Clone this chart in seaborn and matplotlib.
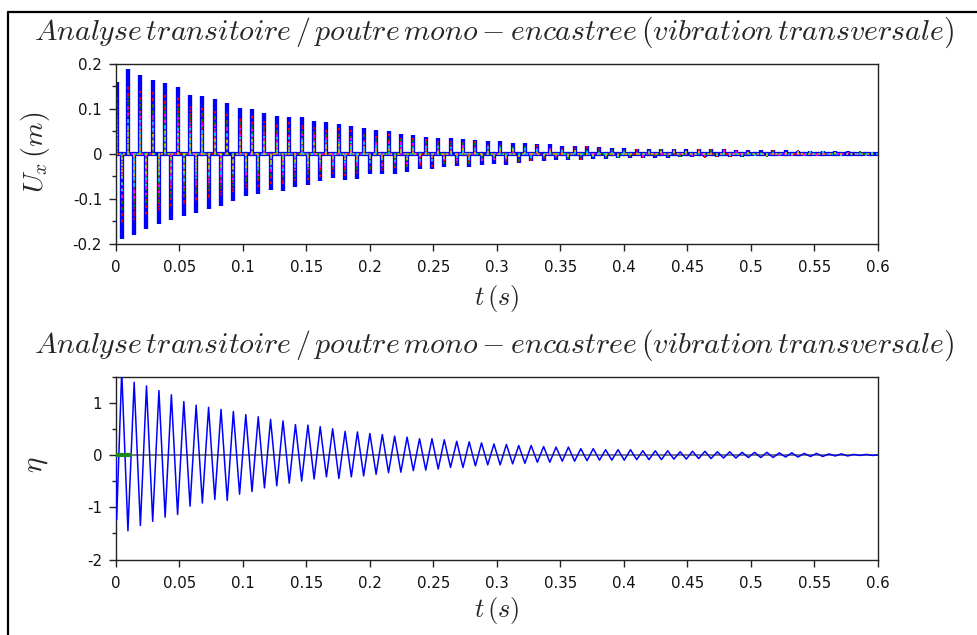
import numpy as np
import pandas as pd
import matplotlib
matplotlib.use("Agg")
import matplotlib.pyplot as plt
from matplotlib.lines import Line2D
from matplotlib.ticker import MultipleLocator, FuncFormatter
import seaborn as sns

# ---------------- data ----------------
# times (s) of the eta troughs (= positive U_x spikes)
t_trough = [0.0005, 0.0094, 0.0192, 0.0289, 0.0387, 0.0485, 0.0583, 0.0680, 0.0778, 0.0876,
            0.0973, 0.1071, 0.1169, 0.1266, 0.1364, 0.1462, 0.1560, 0.1657, 0.1755, 0.1853,
            0.1950, 0.2048, 0.2146, 0.2243, 0.2341, 0.2439, 0.2537, 0.2634, 0.2732, 0.2830,
            0.2927, 0.3025, 0.3123, 0.3220, 0.3318, 0.3416, 0.3514, 0.3611, 0.3709, 0.3807,
            0.3904, 0.4002, 0.4100, 0.4197, 0.4295, 0.4393, 0.4491, 0.4588, 0.4686, 0.4784,
            0.4881, 0.4979, 0.5077, 0.5174, 0.5272, 0.5370, 0.5468, 0.5565, 0.5663, 0.5761,
            0.5858, 0.5956]
# times (s) of the eta peaks (= negative U_x spikes)
t_peak = [0.0045, 0.0143, 0.0240, 0.0338, 0.0436, 0.0534, 0.0631, 0.0729, 0.0827, 0.0924,
          0.1022, 0.1120, 0.1217, 0.1315, 0.1413, 0.1511, 0.1608, 0.1706, 0.1804, 0.1901,
          0.1999, 0.2097, 0.2194, 0.2292, 0.2390, 0.2488, 0.2585, 0.2683, 0.2781, 0.2878,
          0.2976, 0.3074, 0.3171, 0.3269, 0.3367, 0.3465, 0.3562, 0.3660, 0.3758, 0.3855,
          0.3953, 0.4051, 0.4148, 0.4246, 0.4344, 0.4442, 0.4539, 0.4637, 0.4735, 0.4832,
          0.4930, 0.5028, 0.5125, 0.5223, 0.5321, 0.5419, 0.5516, 0.5614, 0.5712, 0.5809,
          0.5907]

# U_x (m): positive spikes (at t_trough) and negative spikes (at t_peak)
ux_pos = [0.160, 0.188, 0.176, 0.165, 0.158, 0.148, 0.131, 0.129, 0.122, 0.114,
          0.101, 0.099, 0.090, 0.084, 0.083, 0.081, 0.073, 0.071, 0.066, 0.062,
          0.058, 0.053, 0.050, 0.045, 0.041, 0.038, 0.036, 0.034, 0.032, 0.031,
          0.028, 0.028, 0.025, 0.023, 0.021, 0.021, 0.017, 0.017, 0.017, 0.016,
          0.013, 0.013, 0.011, 0.011, 0.011, 0.011, 0.011, 0.010, 0.010, 0.010,
          0.009, 0.009, 0.008, 0.008, 0.008, 0.007, 0.007, 0.007, 0.006, 0.006,
          0.005, 0.005]
ux_neg = [-0.190, -0.181, -0.168, -0.156, -0.147, -0.138, -0.132, -0.123, -0.116, -0.106,
          -0.095, -0.089, -0.080, -0.084, -0.073, -0.069, -0.061, -0.054, -0.058, -0.056,
          -0.046, -0.046, -0.045, -0.040, -0.035, -0.034, -0.029, -0.027, -0.029, -0.024,
          -0.022, -0.024, -0.020, -0.016, -0.016, -0.013, -0.013, -0.013, -0.011, -0.011,
          -0.010, -0.010, -0.009, -0.009, -0.009, -0.008, -0.008, -0.008, -0.007, -0.007,
          -0.007, -0.006, -0.006, -0.006, -0.005, -0.005, -0.005, -0.004, -0.004, -0.004,
          -0.003]

# eta: troughs (at t_trough) and peaks (at t_peak)
eta_trough = [-1.24, -1.45, -1.35, -1.27, -1.19, -1.14, -0.98, -0.92, -0.85, -0.87,
              -0.75, -0.70, -0.63, -0.59, -0.54, -0.50, -0.46, -0.42, -0.45, -0.42,
              -0.40, -0.37, -0.34, -0.33, -0.30, -0.29, -0.27, -0.24, -0.24, -0.21,
              -0.19, -0.19, -0.17, -0.16, -0.14, -0.14, -0.12, -0.12, -0.11, -0.10,
              -0.10, -0.10, -0.09, -0.09, -0.09, -0.08, -0.08, -0.07, -0.07, -0.06,
              -0.06, -0.05, -0.05, -0.05, -0.04, -0.04, -0.03, -0.03, -0.02, -0.02,
              -0.01, -0.01]
eta_peak = [1.60, 1.39, 1.32, 1.23, 1.15, 1.02, 0.95, 0.91, 0.87, 0.83,
            0.77, 0.73, 0.68, 0.65, 0.58, 0.57, 0.54, 0.50, 0.45, 0.44,
            0.41, 0.39, 0.36, 0.34, 0.31, 0.31, 0.29, 0.26, 0.25, 0.23,
            0.21, 0.20, 0.18, 0.18, 0.16, 0.15, 0.15, 0.12, 0.12, 0.10,
            0.10, 0.10, 0.08, 0.08, 0.08, 0.06, 0.07, 0.07, 0.06, 0.06,
            0.05, 0.05, 0.05, 0.04, 0.04, 0.03, 0.03, 0.02, 0.02, 0.01,
            0.01]

# other beam nodes (inner dotted traces): amplitude relative to the tip
node_ratio = [0.82, 0.68, 0.54, 0.42, 0.30]
node_colors = ["#ff0000", "#008000", "#ff00ff", "#00c8ff", "#c8b400"]

# small second-mode trace on the eta plot near t = 0
eta2_t = [0.0, 0.011]
eta2_v = [0.0, 0.0]

x_ticks = [0, 0.05, 0.1, 0.15, 0.2, 0.25, 0.3, 0.35, 0.4, 0.45, 0.5, 0.55, 0.6]
title_txt = r"$Analyse\,transitoire\,/\,poutre\,mono-encastree\,(vibration\,transversale)$"

# ---------------- build ordered event sequences ----------------
ev_t, ev_ux, ev_eta = [0.0], [0.0], [0.0]
for i in range(len(t_peak)):
    ev_t += [t_trough[i], t_peak[i]]
    ev_ux += [ux_pos[i], ux_neg[i]]
    ev_eta += [eta_trough[i], eta_peak[i]]
ev_t.append(t_trough[-1]); ev_ux.append(ux_pos[-1]); ev_eta.append(eta_trough[-1])
ev_t.append(0.6); ev_ux.append(0.0); ev_eta.append(0.0)

# U_x as vertical spikes returning to zero
sp_t, sp_v = [], []
for t, v in zip(ev_t, ev_ux):
    sp_t += [t, t, t]
    sp_v += [0.0, v, 0.0]
df_ux = pd.DataFrame({"t": sp_t, "ux": sp_v})
df_eta = pd.DataFrame({"t": ev_t, "eta": ev_eta})

# ---------------- figure ----------------
sns.set_theme(style="white")
plt.rcParams["font.family"] = ["DejaVu Sans"]
plt.rcParams["mathtext.fontset"] = "cm"
plt.rcParams["axes.unicode_minus"] = False

W, H = 978, 635
fig = plt.figure(figsize=(W / 100, H / 100), dpi=100)
fig.patch.set_facecolor("white")


def fx(px):
    return px / W


def fy(py):
    return 1 - py / H


ax1 = fig.add_axes([fx(116), fy(243.5), fx(878) - fx(116), fy(64) - fy(243.5)])
ax2 = fig.add_axes([fx(116), fy(559.5), fx(878) - fx(116), fy(376.5) - fy(559.5)])

# top: U_x
sns.lineplot(data=df_ux, x="t", y="ux", sort=False, estimator=None, ax=ax1,
             color="#0000ff", lw=3.0, solid_joinstyle="miter")
for r, c in zip(node_ratio, node_colors):
    d = pd.DataFrame({"t": sp_t, "ux": [v * r for v in sp_v]})
    sns.lineplot(data=d, x="t", y="ux", sort=False, estimator=None, ax=ax1,
                 color=c, lw=1.3, linestyle=(0, (1, 2.5)))

# bottom: eta
ax2.axhline(0, color="#555555", lw=1.1, zorder=1)
sns.lineplot(data=df_eta, x="t", y="eta", sort=False, estimator=None, ax=ax2,
             color="#0000ff", lw=1.1, zorder=3)
sns.lineplot(x=eta2_t, y=eta2_v, ax=ax2, color="#1a8a1a", lw=3.0, zorder=4)

fmt = FuncFormatter(lambda v, p: ("%g" % round(v, 4)))
for ax in (ax1, ax2):
    ax.set_xlim(0, 0.6)
    ax.set_xticks(x_ticks)
    ax.xaxis.set_major_formatter(fmt)
    ax.yaxis.set_major_formatter(fmt)
    ax.set_xlabel("")
    ax.set_ylabel("")
    for s in ax.spines.values():
        s.set_visible(True)
        s.set_color("#222222")
        s.set_linewidth(1.0)
    ax.tick_params(axis="both", which="major", direction="out", length=5, width=1,
                   color="#222222", labelsize=10.8, labelcolor="#111111",
                   top=False, right=False, bottom=True, left=True)
    ax.tick_params(axis="both", which="minor", direction="out", length=3, width=1,
                   color="#222222", top=False, right=False, bottom=True, left=True)
    ax.tick_params(axis="x", pad=7)
    ax.tick_params(axis="y", pad=5)
    ax.set_facecolor("white")
    ax.grid(False)

ax1.set_ylim(-0.2, 0.2)
ax1.yaxis.set_major_locator(MultipleLocator(0.1))
ax1.yaxis.set_minor_locator(MultipleLocator(0.05))
ax2.set_ylim(-2, 1.5)
ax2.yaxis.set_major_locator(MultipleLocator(1))
ax2.yaxis.set_minor_locator(MultipleLocator(0.5))

# titles and labels
fig.text(fx(494), fy(32), title_txt, ha="center", va="center", fontsize=21.5)
fig.text(fx(494), fy(345), title_txt, ha="center", va="center", fontsize=21.5)
fig.text(fx(497), fy(298), r"$t\,(s)$", ha="center", va="center", fontsize=19)
fig.text(fx(497), fy(611), r"$t\,(s)$", ha="center", va="center", fontsize=19)
fig.text(fx(36), fy(152), r"$U_x\,(m)$", ha="center", va="center", fontsize=20, rotation=90)
fig.text(fx(36), fy(465), r"$\eta$", ha="center", va="center", fontsize=21, rotation=90)

# outer frame (top and left border)
fig.add_artist(Line2D([fx(8), 1.0], [fy(12), fy(12)], transform=fig.transFigure,
                      color="black", lw=1.6))
fig.add_artist(Line2D([fx(8), fx(8)], [0.0, fy(12)], transform=fig.transFigure,
                      color="black", lw=1.6))

fig.savefig("out.png", dpi=100, facecolor="white")
